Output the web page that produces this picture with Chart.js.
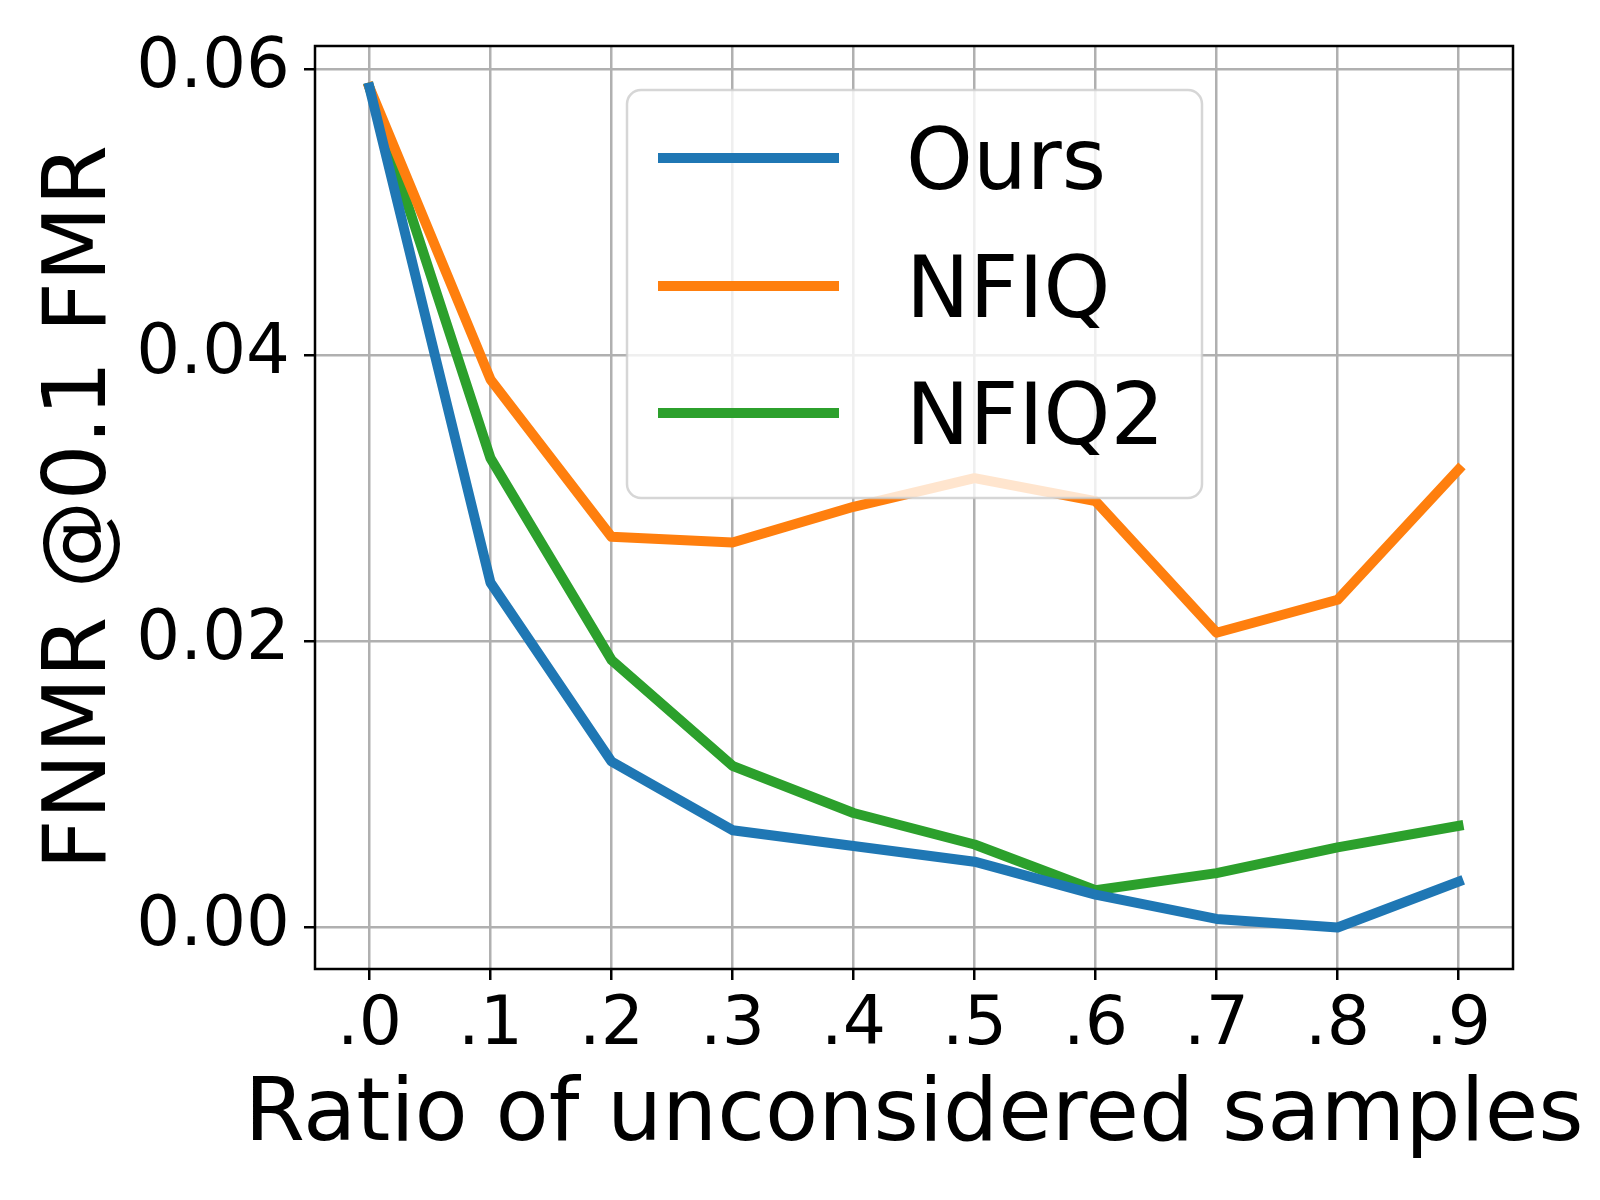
<!DOCTYPE html>
<html>
<head>
<meta charset="utf-8">
<script src="https://cdn.jsdelivr.net/npm/chart.js@4.4.1/dist/chart.umd.min.js"></script>
<style>
  html, body { margin: 0; padding: 0; background: #fff; }
  canvas { display: block; }
</style>
</head>
<body>
<canvas id="myChart" width="1600" height="1200"></canvas>
<script>
"use strict";
// values
const ratios = [0.0, 0.1, 0.2, 0.3, 0.4, 0.5, 0.6, 0.7, 0.8, 0.9];
const ours  = [0.0587, 0.0241, 0.0116, 0.0068, 0.0057, 0.0046, 0.0023, 0.0006, 0.0000, 0.0032];
const nfiq  = [0.0587, 0.0383, 0.0273, 0.0269, 0.0294, 0.0314, 0.0298, 0.0206, 0.0229, 0.0320];
const nfiq2 = [0.0587, 0.0328, 0.0187, 0.0113, 0.0080, 0.0058, 0.0026, 0.0038, 0.0056, 0.0071];
const seriesNames = ['Ours', 'NFIQ', 'NFIQ2'];
const xTicks = [0.0, 0.1, 0.2, 0.3, 0.4, 0.5, 0.6, 0.7, 0.8, 0.9];
const xTickLabels = ['.0', '.1', '.2', '.3', '.4', '.5', '.6', '.7', '.8', '.9'];
const yTicks = [0.00, 0.02, 0.04, 0.06];
const yTickLabels = ['0.00', '0.02', '0.04', '0.06'];
const xTitle = 'Ratio of unconsidered samples';
const yTitle = 'FNMR @0.1 FMR';

const FONT = 'DejaVu Sans';
const colors = ['#1f77b4', '#ff7f0e', '#2ca02c'];
const LINE_W = 10;

function toPoints(vals) {
  var pts = [];
  for (let i = 0; i < ratios.length; i++) {
    pts.push({x: ratios[i], y: vals[i]});
  }
  return pts;
}

function labelFor(ticks, labels, v) {
  for (let i = 0; i < ticks.length; i++) {
    if (Math.abs(ticks[i] - v) < 1e-9) return labels[i];
  }
  return '';
}

// frame round the plot area + x axis title (built-in title gets squeezed to the axis width)
const framePlugin = {
  id: 'frame',
  afterDraw(chart) {
    const a = chart.chartArea;
    const ctx = chart.ctx;
    ctx.save();
    ctx.strokeStyle = '#000';
    ctx.lineWidth = 2.5;
    ctx.strokeRect(a.left, a.top, a.right - a.left, a.bottom - a.top);
    const fs = 87;
    ctx.font = fs + 'px "' + FONT + '"';
    ctx.fillStyle = '#000';
    ctx.textAlign = 'center';
    ctx.textBaseline = 'alphabetic';
    ctx.fillText(xTitle, (a.left + a.right) / 2, 1140);
    ctx.restore();
  }
};

// legend box inside the axes, like matplotlib's
const boxLegend = {
  id: 'boxLegend',
  afterDatasetsDraw(chart) {
    const ctx = chart.ctx;
    const x0 = 627, y0 = 90, w = 575, h = 408, r = 14;
    ctx.save();
    ctx.beginPath();
    ctx.roundRect(x0, y0, w, h, r);
    ctx.fillStyle = 'rgba(255,255,255,0.8)';
    ctx.fill();
    ctx.lineWidth = 2.5;
    ctx.strokeStyle = 'rgba(204,204,204,0.8)';
    ctx.stroke();
    const rows = [158, 286, 413];
    const fs = 85;
    ctx.font = fs + 'px "' + FONT + '"';
    ctx.textBaseline = 'alphabetic';
    ctx.textAlign = 'left';
    chart.data.datasets.forEach(function(ds, i) {
      ctx.strokeStyle = ds.borderColor;
      ctx.lineWidth = LINE_W;
      ctx.lineCap = 'butt';
      ctx.beginPath();
      ctx.moveTo(658, rows[i]);
      ctx.lineTo(839, rows[i]);
      ctx.stroke();
      ctx.fillStyle = '#000';
      ctx.fillText(ds.label, 906, rows[i] + fs * 0.365);
    });
    ctx.restore();
  }
};

function createChart() {
  const datasets = [ours, nfiq, nfiq2].map(function(vals, i) {
    return {
      label: seriesNames[i],
      data: toPoints(vals),
      borderColor: colors[i],
      backgroundColor: colors[i],
      borderWidth: LINE_W,
      pointRadius: 0,
      tension: 0,
      borderJoinStyle: 'round',
      borderCapStyle: 'square',
      fill: false
    };
  });

  const ctx = document.getElementById('myChart').getContext('2d');
  return new Chart(ctx, {
    type: 'line',
    data: { datasets: datasets },
    options: {
      responsive: false,
      animation: false,
      devicePixelRatio: 1,
      layout: { padding: { top: 46, right: 87, left: 0, bottom: 0 } },
      plugins: {
        legend: { display: false },
        tooltip: { enabled: false }
      },
      scales: {
        x: {
          type: 'linear',
          min: -0.045,
          max: 0.945,
          afterBuildTicks(scale) {
            scale.ticks = xTicks.map(function(v) { return {value: v}; });
          },
          afterFit(scale) {
            scale.height = 231;
            scale.paddingLeft = 0;
            scale.paddingRight = 0;
          },
          grid: {
            color: '#b0b0b0',
            lineWidth: 2.5,
            tickColor: '#000',
            tickLength: 11,
            tickWidth: 2.5
          },
          border: { display: false },
          ticks: {
            color: '#000',
            padding: 6,
            maxRotation: 0,
            autoSkip: false,
            font: { family: FONT, size: 68 },
            callback: function(v) { return labelFor(xTicks, xTickLabels, v); }
          },
          title: { display: false }
        },
        y: {
          type: 'linear',
          min: -0.0029,
          max: 0.0616,
          afterBuildTicks(scale) {
            scale.ticks = yTicks.map(function(v) { return {value: v}; });
          },
          afterFit(scale) {
            scale.width = 315;
            scale.paddingTop = 0;
            scale.paddingBottom = 0;
          },
          grid: {
            color: '#b0b0b0',
            lineWidth: 2.5,
            tickColor: '#000',
            tickLength: 11,
            tickWidth: 2.5
          },
          border: { display: false },
          ticks: {
            color: '#000',
            padding: 14,
            autoSkip: false,
            font: { family: FONT, size: 69 },
            callback: function(v) { return labelFor(yTicks, yTickLabels, v); }
          },
          title: {
            display: true,
            text: yTitle,
            color: '#000',
            font: { family: FONT, size: 88 },
            padding: { top: 29, bottom: 0 }
          }
        }
      }
    },
    plugins: [framePlugin, boxLegend]
  });
}

createChart();
</script>
</body>
</html>
